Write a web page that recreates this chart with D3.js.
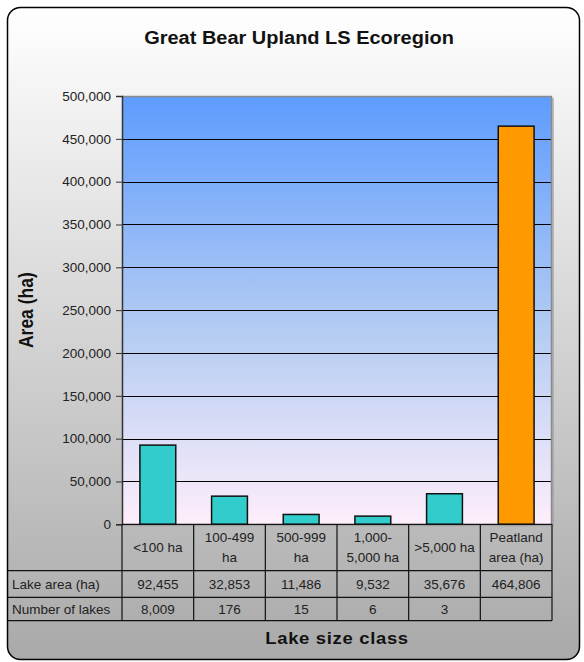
<!DOCTYPE html>
<html><head><meta charset="utf-8">
<script src="https://cdn.jsdelivr.net/npm/d3@7/dist/d3.min.js"></script>
<style>
html,body{margin:0;padding:0;background:#fff;}
svg{display:block;font-family:"Liberation Sans",Arial,sans-serif;}
</style></head><body>
<svg id="chart" width="584" height="662"></svg>
<script>
const categories = ["<100 ha", "100-499 ha", "500-999 ha", "1,000-5,000 ha", ">5,000 ha", "Peatland area (ha)"];
const categoryLines = [["<100 ha"], ["100-499", "ha"], ["500-999", "ha"], ["1,000-", "5,000 ha"], [">5,000 ha"], ["Peatland", "area (ha)"]];
const lakeArea = [92455, 32853, 11486, 9532, 35676, 464806];
const lakeAreaLabels = ["92,455", "32,853", "11,486", "9,532", "35,676", "464,806"];
const numberOfLakes = ["8,009", "176", "15", "6", "3", ""];
const rowLabels = ["Lake area (ha)", "Number of lakes"];
const yTicks = [0, 50000, 100000, 150000, 200000, 250000, 300000, 350000, 400000, 450000, 500000];
const barColors = ["#33cccc", "#33cccc", "#33cccc", "#33cccc", "#33cccc", "#ff9900"];

const svg = d3.select("#chart");
const defs = svg.append("defs");
const cardGrad = defs.append("linearGradient").attr("id","cardGrad").attr("x1",0).attr("y1",0).attr("x2",0).attr("y2",1);
cardGrad.append("stop").attr("offset","0").attr("stop-color","#ffffff");
cardGrad.append("stop").attr("offset","1").attr("stop-color","#a9a9a9");
const plotGrad = defs.append("linearGradient").attr("id","plotGrad").attr("x1",0).attr("y1",0).attr("x2",0).attr("y2",1);
plotGrad.append("stop").attr("offset","0").attr("stop-color","#5e9cff");
plotGrad.append("stop").attr("offset","0.55").attr("stop-color","#b4ccf2");
plotGrad.append("stop").attr("offset","1").attr("stop-color","#feeefb");

// card
svg.append("rect").attr("x",7.5).attr("y",7.5).attr("width",572).attr("height",652)
  .attr("rx",13).attr("fill","url(#cardGrad)").attr("stroke","#000").attr("stroke-width",1.5);

const pLeft = 122, pRight = 552, pTop = 96, pBottom = 524.3;
const x = d3.scaleBand().domain(categories).range([pLeft, pRight]).paddingInner(0.5).paddingOuter(0.25);
const col = d3.scaleBand().domain(categories).range([pLeft, pRight]).padding(0);
const y = d3.scaleLinear().domain([0, 500000]).range([pBottom, pTop]);

// plot shadow + background
svg.append("rect").attr("x",pLeft+2).attr("y",pTop+2).attr("width",pRight-pLeft).attr("height",pBottom-pTop)
  .attr("fill","#9a9a9a").attr("opacity",0.6);
svg.append("rect").attr("x",pLeft).attr("y",pTop).attr("width",pRight-pLeft).attr("height",pBottom-pTop)
  .attr("fill","url(#plotGrad)");

// gridlines
svg.append("g").selectAll("line").data(yTicks.filter(d => d > 0 && d < 500000)).join("line")
  .attr("x1",pLeft).attr("x2",pRight).attr("y1",d => Math.round(y(d))+0.5).attr("y2",d => Math.round(y(d))+0.5)
  .attr("stroke","#000").attr("stroke-width",1);
// top & right border
svg.append("path").attr("d",`M${pLeft},${pTop+0.5}H${pRight-0.5}V${pBottom}`).attr("fill","none")
  .attr("stroke","#8a8a8a").attr("stroke-width",1.5);

// bars
svg.append("g").selectAll("rect").data(lakeArea).join("rect")
  .attr("x",(d,i) => x(categories[i])).attr("width",x.bandwidth())
  .attr("y",d => y(d)).attr("height",d => pBottom - y(d))
  .attr("fill",(d,i) => barColors[i]).attr("stroke","#111").attr("stroke-width",1.5);

// y axis
const yAxis = d3.axisLeft(y).tickValues(yTicks).tickSize(6).tickPadding(5).tickFormat(d3.format(","));
const gy = svg.append("g").attr("transform",`translate(${pLeft},0)`).call(yAxis);
gy.select(".domain").attr("stroke","#333").attr("stroke-width",1.5);
gy.selectAll(".tick line").attr("stroke","#333");
gy.selectAll(".tick text").attr("font-size",13.5).attr("fill","#222").attr("font-family","Liberation Sans, Arial, sans-serif");

// table
const rowY = [pBottom, 570.7, 597.3, 620.7];
const tg = svg.append("g");
tg.append("line").attr("x1",pLeft).attr("x2",pRight).attr("y1",pBottom).attr("y2",pBottom).attr("stroke","#111").attr("stroke-width",1.3);
[rowY[1], rowY[2], rowY[3]].forEach(yy => {
  tg.append("line").attr("x1",8).attr("x2",pRight).attr("y1",yy).attr("y2",yy).attr("stroke","#111").attr("stroke-width",1.2);
});
const colEdges = categories.map(c => col(c)).concat([pRight]);
colEdges.forEach(xx => {
  tg.append("line").attr("x1",xx).attr("x2",xx).attr("y1",pBottom).attr("y2",rowY[3]).attr("stroke","#111").attr("stroke-width",1.2);
});
categories.forEach((c,i) => {
  const lines = categoryLines[i];
  const cx = col(c) + col.bandwidth()/2;
  const cy = (rowY[0] + rowY[1]) / 2;
  const lh = 20;
  lines.forEach((t,j) => {
    tg.append("text").attr("x",cx).attr("y",cy + (j - (lines.length-1)/2)*lh + 4.5)
      .attr("text-anchor","middle").attr("font-size",13.5).attr("fill","#222").text(t);
  });
});
const rows = [lakeAreaLabels, numberOfLakes];
rows.forEach((vals,r) => {
  const cy = (rowY[r+1] + rowY[r+2]) / 2 + 4.5;
  tg.append("text").attr("x",12).attr("y",cy).attr("font-size",13.5).attr("fill","#222").text(rowLabels[r]);
  vals.forEach((v,i) => {
    tg.append("text").attr("x",col(categories[i]) + col.bandwidth()/2).attr("y",cy)
      .attr("text-anchor","middle").attr("font-size",13.5).attr("fill","#222").text(v);
  });
});

// titles
svg.append("text").attr("transform","translate(299,44) scale(1.08,1)")
  .attr("text-anchor","middle").attr("font-size",18.5).attr("font-weight","bold").attr("fill","#111")
  .text("Great Bear Upland LS Ecoregion");
svg.append("text").attr("transform","translate(337,644) scale(1.12,1)")
  .attr("text-anchor","middle").attr("font-size",16.5).attr("font-weight","bold").attr("fill","#111")
  .attr("letter-spacing",0.6).text("Lake size class");
svg.append("text").attr("transform",`translate(33,${(pTop+pBottom)/2}) rotate(-90) scale(1,1.12)`)
  .attr("text-anchor","middle").attr("font-size",17.5).attr("font-weight","bold").attr("fill","#111")
  .text("Area (ha)");
</script>
</body></html>
